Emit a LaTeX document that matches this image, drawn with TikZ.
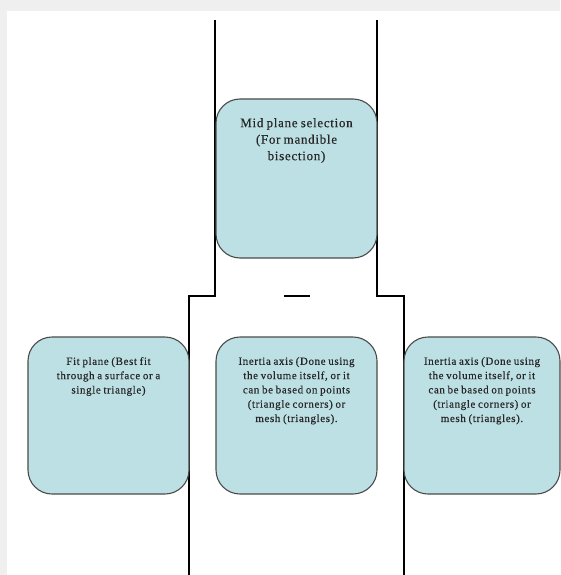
\documentclass[tikz,border=0pt]{standalone}
\usepackage{fontspec}
\setmainfont{Liberation Serif}
\newfontfamily\boxfont[LetterSpace=5.5,WordSpace=0.8,FakeBold=0.35]{Liberation Serif}
\definecolor{bggray}{HTML}{EFEFEF}
\definecolor{boxfill}{HTML}{BDE0E4}
\definecolor{boxline}{HTML}{4A4A4A}
\definecolor{txtcol}{HTML}{262626}
\tikzset{
  pipe/.style={line width=2.6pt, black},
  stagebox/.style={draw=boxline, line width=1.1pt, fill=boxfill, rounded corners=24pt, inner sep=0pt},
  bigtxt/.style={anchor=north, inner sep=0pt, align=center, text=txtcol, font=\boxfont\fontsize{13}{16.5}\selectfont},
  smalltxt/.style={anchor=north, inner sep=0pt, align=center, text=txtcol, font=\boxfont\fontsize{11}{14.3}\selectfont}
}
\begin{document}
\begin{tikzpicture}[x=1pt,y=-1pt]
\fill[bggray] (0,0) rectangle (560,575);
\fill[white] (7,11) rectangle (560,575);
\useasboundingbox (0,0) rectangle (560,575);
% pipe lines
\coordinate (lt) at (215,20);
\coordinate (lk) at (215,296);
\coordinate (lj) at (189,296);
\coordinate (lb) at (189,575);
\coordinate (rt) at (377,20);
\coordinate (rk) at (377,296);
\coordinate (rj) at (404,296);
\coordinate (rb) at (404,575);
\coordinate (da) at (284,296);
\coordinate (db) at (310,296);
\draw[pipe] (lt) -- (lk) -- (lj) -- (lb);
\draw[pipe] (rt) -- (rk) -- (rj) -- (rb);
\draw[pipe] (da) -- (db);
% boxes
\node[stagebox, minimum width=161pt, minimum height=159pt] (mid) at (296.5,178.5) {};
\node[bigtxt] (midt) at ([yshift=-19.5pt]mid.north) {Mid plane selection\\(For mandible\\bisection)};
\node[stagebox, minimum width=161pt, minimum height=157pt] (fit) at (108.5,415.5) {};
\node[smalltxt] (fitt) at ([yshift=-20.5pt]fit.north) {Fit plane (Best fit\\through a surface or a\\single triangle)};
\node[stagebox, minimum width=161pt, minimum height=157pt] (ina) at (296.5,415.5) {};
\node[smalltxt] (inat) at ([yshift=-20.5pt]ina.north) {Inertia axis (Done using\\the volume itself, or it\\can be based on points\\(triangle corners) or\\mesh (triangles).};
\node[stagebox, minimum width=156pt, minimum height=157pt] (inb) at (482,415.5) {};
\node[smalltxt] (inbt) at ([yshift=-20.5pt]inb.north) {Inertia axis (Done using\\the volume itself, or it\\can be based on points\\(triangle corners) or\\mesh (triangles).};
\end{tikzpicture}
\end{document}
